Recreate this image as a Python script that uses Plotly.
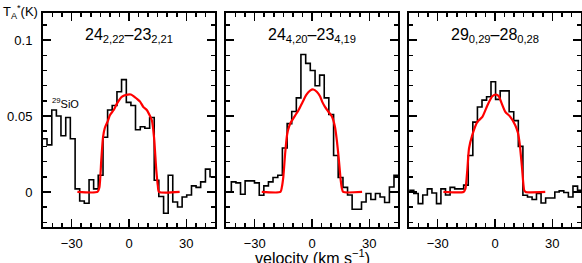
import numpy as np
import plotly.graph_objects as go

# ---------------- data ----------------
titles = ["24<sub>2,22</sub>\u201323<sub>2,21</sub>",
          "24<sub>4,20</sub>\u201323<sub>4,19</sub>",
          "29<sub>0,29</sub>\u201328<sub>0,28</sub>"]

# panel 1 spectrum (channel centre velocity, km/s ; T_A* in K)
vel1 = [-44.1, -41.7, -39.2, -36.8, -34.4, -31.9, -29.5, -27.0, -24.6, -22.2, -19.7, -17.3,
        -14.9, -12.4, -10.0, -7.6, -5.1, -2.7, -0.2, 2.2, 4.6, 7.1, 9.5, 12.0, 14.4, 16.8,
        19.3, 21.7, 24.1, 26.6, 29.0, 31.4, 33.9, 36.3, 38.7, 41.2, 43.6]
tmb1 = [0.035, 0.031, 0.054, 0.050, 0.037, 0.049, 0.035, 0.002, -0.006, -0.0075, 0.008, 0.002,
        0.011, 0.036, 0.054, 0.057, 0.066, 0.074, 0.059, 0.057, 0.041, 0.043, 0.042, 0.049, 0.0077,
        -0.003, -0.014, 0.011, -0.0066, -0.0099, -0.0033, -0.002, 0.004, 0.003, 0.0066, 0.015, 0.010]

# panel 2 spectrum
vel2 = [-43.5, -41.0, -38.6, -36.2, -33.8, -31.3, -28.9, -26.4, -24.0, -21.6, -19.2, -16.7,
        -14.3, -11.8, -9.4, -7.0, -4.6, -2.1, 0.3, 2.8, 5.2, 7.6, 10.0, 12.5, 14.9, 17.4,
        19.8, 22.2, 24.6, 27.1, 29.5, 32.0, 34.4, 36.8, 39.2, 41.7, 44.1]
tmb2 = [0.0, 0.0066, 0.006, -0.0015, 0.0073, 0.0073, 0.006, -0.0022, 0.004, 0.0066, 0.0095, 0.011,
        0.029, 0.045, 0.053, 0.062, 0.0906, 0.0847, 0.080, 0.070, 0.077, 0.062, 0.051, 0.024, 0.0095,
        0.003, -0.002, -0.0114, -0.0114, -0.0066, -0.001, -0.005, -0.001, -0.0033, -0.007, 0.0033, 0.011]

# panel 3 spectrum
vel3 = [-43.7, -41.3, -39.0, -36.6, -34.2, -31.8, -29.4, -27.1, -24.7, -22.3, -19.9, -17.5,
        -15.2, -12.8, -10.4, -8.0, -5.6, -3.2, -0.9, 1.5, 3.9, 6.3, 8.6, 11.0, 13.4, 15.8,
        18.2, 20.6, 22.9, 25.3, 27.7, 30.1, 32.5, 34.8, 37.2, 39.6, 42.0, 44.4]
tmb3 = [0.001, -0.001, -0.0077, -0.002, 0.002, -0.0007, -0.0077, 0.002, -0.002, 0.003, 0.002, 0.002,
        0.0045, 0.024, 0.046, 0.056, 0.0605, 0.0627, 0.0726, 0.061, 0.0666, 0.0666, 0.0528, 0.047,
        0.030, -0.0022, -0.0033, -0.005, -0.001, -0.0073, -0.004, -0.004, 0.0, 0.0007, -0.0004,
        -0.0033, 0.0038, 0.001]

# model fits (red)
fitv1 = [-27, -16.5, -15.5, -14.5, -13.6, -12.7, -11, -10, -8, -6.4, -3.8, -1.5, 1.0, 3, 4.5,
         5.8, 7.5, 9.3, 11, 12, 13.1, 14.3, 15.1, 15.7, 26.5]
fitt1 = [0, 0, 0.003, 0.021, 0.036, 0.042, 0.047, 0.0506, 0.054, 0.058, 0.0627, 0.064, 0.0642,
         0.0625, 0.061, 0.0595, 0.056, 0.054, 0.050, 0.047, 0.036, 0.014, 0.004, 0, 0]

fitv2 = [-26.3, -16.5, -15.8, -15, -14, -13, -12, -11, -9, -7, -5, -3, -1, 0.7, 2.5, 4.2, 5.5,
         6.8, 8.5, 10.3, 12, 13, 14, 15, 15.7, 16.3, 26.2]
fitt2 = [0, 0, 0.003, 0.010, 0.026, 0.038, 0.043, 0.046, 0.050, 0.054, 0.059, 0.064, 0.0668,
         0.0675, 0.066, 0.063, 0.059, 0.056, 0.053, 0.050, 0.043, 0.034, 0.022, 0.008, 0.002, 0, 0]

fitv3 = [-27, -16.5, -15.5, -14.5, -13.6, -11.9, -9.3, -6.6, -4, -1.4, 0.5, 2, 3.3, 5.4, 8,
         10.6, 12, 12.9, 14.1, 15.3, 16, 26.3]
fitt3 = [0, 0, 0.002, 0.0143, 0.0286, 0.0374, 0.046, 0.0495, 0.057, 0.063, 0.0642, 0.063, 0.059,
         0.0528, 0.0495, 0.044, 0.039, 0.032, 0.0165, 0.001, 0, 0]

x_ticks = [-30, 0, 30]
y_ticks = [0, 0.05, 0.1]
# ---------------------------------------------------------------

spectra = [(vel1, tmb1), (vel2, tmb2), (vel3, tmb3)]
fits = [(fitv1, fitt1), (fitv2, fitt2), (fitv3, fitt3)]

W, H = 582, 263
ML, MR, MT, MB = 43, 1, 13, 36
PW, PH = W - ML - MR, H - MT - MB
xdom_px = [(43, 215), (226, 398), (409, 581)]


def px_x(px):
    return (px - ML) / PW


def px_y(py):
    return (H - MB - py) / PH


FONT = "Liberation Sans"
fig = go.Figure()

for i, ((v, t), (fv, ft)) in enumerate(zip(spectra, fits)):
    v = np.asarray(v, float)
    t = np.asarray(t, float)
    w = float(np.median(np.diff(v)))
    xs = np.append(v - w / 2, v[-1] + w / 2)
    ys = np.append(t, t[-1])
    sfx = "" if i == 0 else str(i + 1)
    fig.add_trace(go.Scatter(x=xs, y=ys, mode="lines", line=dict(color="black", width=1.6, shape="hv"),
                             xaxis="x" + sfx, yaxis="y" + sfx, showlegend=False, hoverinfo="skip"))
    fig.add_trace(go.Scatter(x=fv, y=ft, mode="lines",
                             line=dict(color="#ff0000", width=2.2, shape="spline", smoothing=0.6),
                             xaxis="x" + sfx, yaxis="y" + sfx, showlegend=False, hoverinfo="skip"))

common = dict(showline=True, linecolor="black", linewidth=2, mirror="allticks", ticks="inside",
              tickwidth=1.5, tickcolor="black", showgrid=False, zeroline=False, automargin=False,
              tickfont=dict(family=FONT, size=13, color="black"))

layout = dict(width=W, height=H, margin=dict(l=ML, r=MR, t=MT, b=MB, autoexpand=False),
              paper_bgcolor="white", plot_bgcolor="white", showlegend=False)

for i in range(3):
    sfx = "" if i == 0 else str(i + 1)
    d0, d1 = xdom_px[i]
    layout["xaxis" + sfx] = dict(common, domain=[max(0, px_x(d0)), min(1, px_x(d1))], range=[-45, 45],
                                 tickvals=x_ticks, ticklen=8, anchor="y" + sfx, ticklabelstandoff=3,
                                 minor=dict(ticks="inside", ticklen=4, tickwidth=1.5, tickcolor="black",
                                            dtick=5, tick0=0, showgrid=False))
    layout["yaxis" + sfx] = dict(common, domain=[0, 1], range=[-0.0231, 0.1179],
                                 tickvals=y_ticks, ticklen=8, anchor="x" + sfx,
                                 showticklabels=(i == 0), ticklabelstandoff=6,
                                 minor=dict(ticks="inside", ticklen=4, tickwidth=1.5, tickcolor="black",
                                            dtick=0.01, tick0=0, showgrid=False))

fig.update_layout(**layout)

annotations = []
for i, ttl in enumerate(titles):
    sfx = "" if i == 0 else str(i + 1)
    annotations.append(dict(text=ttl, x=0, y=0.1034, xref="x" + sfx, yref="y" + sfx,
                            showarrow=False, xanchor="center", yanchor="middle",
                            font=dict(family=FONT, size=16, color="black")))
annotations.append(dict(text="<sup>29</sup>SiO", x=-41.5, y=0.0585, xref="x", yref="y",
                        showarrow=False, xanchor="left", yanchor="middle",
                        font=dict(family=FONT, size=11, color="black")))
annotations.append(dict(text="T<sub>A</sub><sup>*</sup>(K)", x=px_x(1), y=px_y(12),
                        xref="paper", yref="paper", showarrow=False, xanchor="left", yanchor="middle",
                        font=dict(family=FONT, size=13, color="black")))
annotations.append(dict(text="velocity (km s<sup>\u22121</sup>)", x=px_x(312), y=px_y(245),
                        xref="paper", yref="paper", showarrow=False, xanchor="center", yanchor="top",
                        font=dict(family=FONT, size=16, color="black")))
fig.update_layout(annotations=annotations)

fig.write_html("out.html", config={"displayModeBar": False, "staticPlot": True},
               post_script="document.body.style.margin='0';document.body.style.overflow='hidden';")
